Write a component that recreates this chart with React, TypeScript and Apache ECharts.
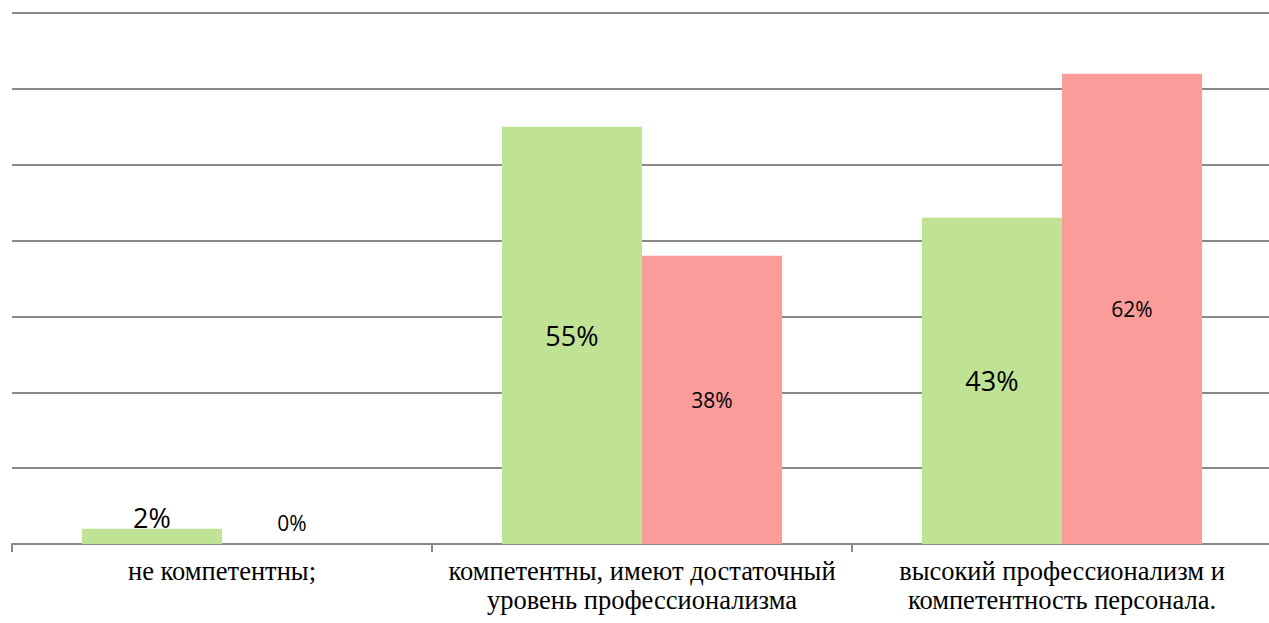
import React, { useEffect, useRef } from "react";
import * as echarts from "echarts";

const categories = [
  "не компетентны;",
  "компетентны, имеют достаточный\nуровень профессионализма",
  "высокий профессионализм и\nкомпетентность персонала.",
];
const seriesA = [2, 55, 43];
const seriesB = [0, 38, 62];

export default function App() {
  const ref = useRef<HTMLDivElement>(null);
  useEffect(() => {
    if (!ref.current) return;
    const chart = echarts.init(ref.current, undefined, { renderer: "svg" });
    const lbl = (big: boolean) => ({
      show: true,
      formatter: "{c}%",
      color: "#000",
      fontFamily: "Open Sans",
      fontSize: big ? 27 : 21,
    });
    chart.setOption({
      animation: false,
      backgroundColor: "#fff",
      grid: {
        left: 12,
        top: 13,
        width: 1260,
        height: 531,
        containLabel: false,
        outerBoundsMode: "none",
      },
      xAxis: {
        type: "category",
        data: categories,
        axisLine: { lineStyle: { color: "#888", width: 2 } },
        axisTick: { show: true, length: 8, lineStyle: { color: "#888", width: 2 } },
        axisLabel: {
          show: true,
          margin: 12,
          interval: 0,
          color: "#000",
          fontFamily: "Liberation Serif",
          fontSize: 26.5,
          lineHeight: 29,
        },
      },
      yAxis: {
        type: "value",
        min: 0,
        max: 70,
        interval: 10,
        axisLabel: { show: false },
        axisLine: { show: false },
        axisTick: { show: false },
        splitLine: { lineStyle: { color: "#888", width: 2 } },
      },
      series: [
        {
          type: "bar",
          data: seriesA.map((v) => ({
            value: v,
            label: { ...lbl(true), position: v < 10 ? "top" : "inside", distance: -2 },
          })),
          itemStyle: { color: "#BFE295" },
          barGap: "0%",
          barCategoryGap: "33.3%",
        },
        {
          type: "bar",
          data: seriesB.map((v) => ({
            value: v,
            label: { ...lbl(false), position: v < 10 ? "top" : "inside", distance: 11 },
          })),
          itemStyle: { color: "#FA9D9A" },
        },
      ],
    });
    return () => chart.dispose();
  }, []);
  return (
    <div
      ref={ref}
      style={{ position: "fixed", left: 0, top: 0, width: 1275, height: 623 }}
    />
  );
}
